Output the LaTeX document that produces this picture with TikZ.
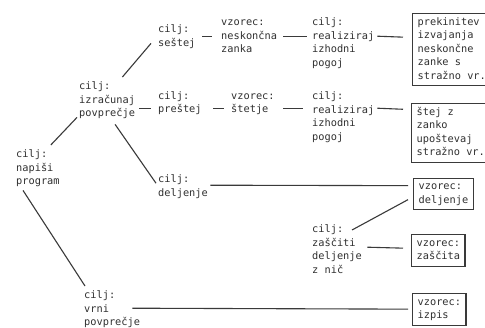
\documentclass[tikz,border=0pt]{standalone}
\usepackage{fontspec}
\newfontfamily\diagfont{DejaVu Sans Mono}
\usetikzlibrary{calc}
\definecolor{txt}{HTML}{303030}
\definecolor{ln}{HTML}{3A3A3A}
\newcommand\ms{\rule[-3pt]{0pt}{11pt}}
\begin{document}
\begin{tikzpicture}[x=1pt,y=-1pt,
  lbl/.style={anchor=north west,inner sep=0pt,align=left,text=txt,
    font={\diagfont\fontsize{10.3}{13.5}\selectfont}},
  pbox/.style={lbl,draw=ln,line width=1.3pt,inner xsep=5pt,inner ysep=3.5pt},
  conn/.style={draw=ln,line width=1.1pt}]
\useasboundingbox[fill=white] (0,0) rectangle (485,327);
% goal nodes
\node[lbl] (prog)  at (16,149.5)  {\ms cilj:\\\ms napiši\\\ms program};
\node[lbl] (izr)   at (79,81.5)   {\ms cilj:\\\ms izračunaj\\\ms povprečje};
\node[lbl] (sest)  at (158,24.5)  {\ms cilj:\\\ms seštej};
\node[lbl] (prest) at (158,91)    {\ms cilj:\\\ms preštej};
\node[lbl] (delj)  at (158,174.5) {\ms cilj:\\\ms deljenje};
\node[lbl] (nesk)  at (221,17.5)  {\ms vzorec:\\\ms neskončna\\\ms zanka};
\node[lbl] (stet)  at (231,91)    {\ms vzorec:\\\ms štetje};
\node[lbl] (real1) at (312,17.5)  {\ms cilj:\\\ms realiziraj\\\ms izhodni\\\ms pogoj};
\node[lbl] (real2) at (312,91.5)  {\ms cilj:\\\ms realiziraj\\\ms izhodni\\\ms pogoj};
\node[lbl] (zasc)  at (312,224.5) {\ms cilj:\\\ms zaščiti\\\ms deljenje\\\ms z nič};
\node[lbl] (vrni)  at (84,290.5)  {\ms cilj:\\\ms vrni\\\ms povprečje};
% pattern boxes
\node[pbox] (b1) at (412,13)  {\ms prekinitev\\\ms izvajanja\\\ms neskončne\\\ms zanke s\\\ms stražno vr.};
\node[pbox] (b2) at (411,103) {\ms štej z\\\ms zanko\\\ms upoštevaj\\\ms stražno vr.};
\node[pbox] (b3) at (413,177.5) {\ms vzorec:\\\ms deljenje};
\node[pbox] (b4) at (411,234) {\ms vzorec:\\\ms zaščita};
\node[pbox] (b5) at (412,293) {\ms vzorec:\\\ms izpis};
% connectors
\draw[conn] ($(prog.north east)+(-9,-4.5)$) -- ($(izr.south west)+(-2,-2.5)$);
\draw[conn] ($(izr.north east)+(-12.8,-4.5)$) -- ($(sest.south west)+(-7,-6)$);
\draw[conn] ($(izr.east)+(4,7.5)$) -- ($(prest.west)+(-7,4.75)$);
\draw[conn] ($(izr.south)+(8,4.5)$) -- ($(delj.west)+(-2,-3.75)$);
\draw[conn] ($(prog.south west)+(7,2.5)$) -- ($(vrni.north west)+(1,-4.5)$);
\draw[conn] ($(sest.east)+(6.8,-0.75)$) -- ($(nesk.west)+(-9,-0.5)$);
\draw[conn] ($(nesk.east)+(6,-0.5)$) -- ($(real1.west)+(-5,-7.25)$);
\draw[conn] ($(real1.east)+(3,-7.25)$) -- ($(b1.west)+(-9,-12.5)$);
\draw[conn] ($(prest.east)+(11.6,4.75)$) -- ($(stet.west)+(-7,4.75)$);
\draw[conn] ($(stet.east)+(8.6,4.75)$) -- ($(real2.west)+(-9,-9.25)$);
\draw[conn] ($(real2.east)+(3,-9.25)$) -- ($(b2.west)+(-8,-23.75)$);
\draw[conn] ($(delj.east)+(2.4,-1.75)$) -- ($(b3.west)+(-5,-8.25)$);
\draw[conn] ($(zasc.north west)+(40,5.5)$) -- ($(b3.west)+(-5,5.75)$);
\draw[conn] ($(zasc.east)+(5.4,-3.25)$) -- ($(b4.west)+(-8,-2.25)$);
\draw[conn] ($(vrni.east)+(-7.8,-1.5)$) -- ($(b5.west)+(-4,-0.25)$);
\end{tikzpicture}
\end{document}
